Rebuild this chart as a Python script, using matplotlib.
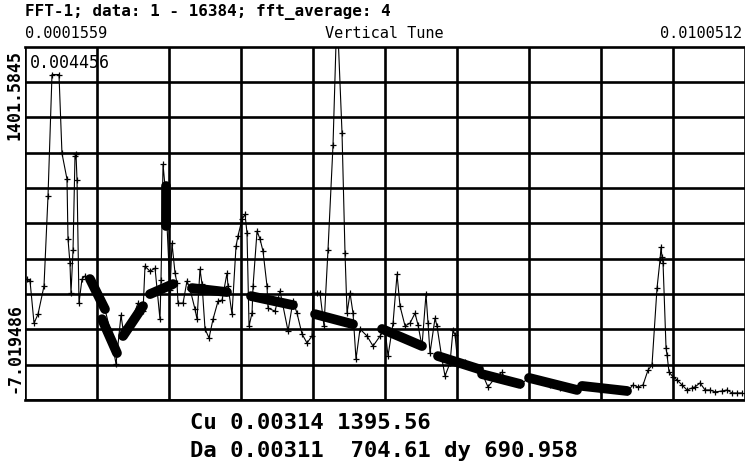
import numpy as np
import matplotlib
matplotlib.use('Agg')
import matplotlib.pyplot as plt

# widmo FFT - wartosci
tune = [0.000183, 0.000225, 0.000280, 0.000335, 0.000417, 0.000472, 0.000527, 0.000623,
        0.000664, 0.000733, 0.000747, 0.000774, 0.000788, 0.000816, 0.000843, 0.000857,
        0.000871, 0.000898, 0.000939, 0.000981, 0.001049, 0.001146, 0.001255, 0.001324,
        0.001407, 0.001475, 0.001503, 0.001599, 0.001709, 0.001778, 0.001805, 0.001874,
        0.001943, 0.002011, 0.002025, 0.002053, 0.002080, 0.002108, 0.002149, 0.002176,
        0.002218, 0.002245, 0.002259, 0.002328, 0.002382, 0.002424, 0.002492, 0.002520,
        0.002561, 0.002589, 0.002630, 0.002685, 0.002740, 0.002809, 0.002864, 0.002932,
        0.002946, 0.003001, 0.003056, 0.003083, 0.003138, 0.003180, 0.003207, 0.003235,
        0.003276, 0.003290, 0.003345, 0.003386, 0.003427, 0.003482, 0.003496, 0.003592,
        0.003661, 0.003771, 0.003839, 0.003894, 0.003963, 0.004032, 0.004100, 0.004114,
        0.004169, 0.004210, 0.004265, 0.004320, 0.004389, 0.004444, 0.004513, 0.004554,
        0.004582, 0.004623, 0.004664, 0.004705, 0.004760, 0.004856, 0.004939, 0.005035,
        0.005104, 0.005145, 0.005214, 0.005269, 0.005310, 0.005379, 0.005447, 0.005516,
        0.005557, 0.005612, 0.005667, 0.005695, 0.005722, 0.005791, 0.005818, 0.005887,
        0.005928, 0.005997, 0.006038, 0.006066, 0.006107, 0.006203, 0.006368, 0.006437,
        0.006519, 0.006616, 0.006712, 0.006753, 0.006959, 0.007097, 0.007372, 0.007509,
        0.007743, 0.007784, 0.008059, 0.008430, 0.008512, 0.008581, 0.008650, 0.008718,
        0.008773, 0.008842, 0.008883, 0.008897, 0.008911, 0.008925, 0.008966, 0.008980,
        0.009007, 0.009062, 0.009117, 0.009186, 0.009254, 0.009323, 0.009364, 0.009433,
        0.009502, 0.009571, 0.009639, 0.009736, 0.009804, 0.009873, 0.009942, 0.010010]
amp = [475, 467, 299, 335, 447, 805, 1290, 1290,
       976, 873, 634, 538, 419, 590, 964, 972,
       869, 379, 475, 487, 475, 411, 355, 272,
       136, 331, 276, 292, 379, 347, 526, 506,
       518, 315, 471, 932, 845, 686, 431, 618,
       498, 459, 379, 379, 467, 435, 355, 315,
       514, 455, 276, 240, 315, 387, 391, 498,
       447, 335, 606, 646, 713, 733, 658, 288,
       339, 447, 666, 634, 586, 447, 359, 347,
       427, 268, 387, 339, 256, 220, 248, 419,
       419, 419, 288, 590, 1008, 1550, 1056, 578,
       339, 419, 339, 156, 276, 248, 208, 248,
       276, 168, 299, 494, 367, 288, 299, 339,
       292, 208, 415, 299, 180, 319, 288, 156,
       89, 140, 272, 252, 132, 144, 112, 100,
       45, 81, 104, 73, 53, 85, 53, 41,
       33, 53, 33, 25, 53, 45, 53, 112,
       132, 439, 550, 602, 562, 538, 200, 172,
       104, 85, 73, 53, 33, 41, 45, 61,
       33, 33, 25, 29, 33, 21, 21, 21]

# geste fragmenty widma (poczatek i koniec kazdego pasma)
dense_t0 = [0.001049, 0.001214, 0.001503, 0.001874, 0.002451, 0.003262, 0.004142,
            0.005063, 0.005832, 0.006437, 0.007083, 0.007811, 0.002090]
dense_t1 = [0.001255, 0.001420, 0.001778, 0.002190, 0.002932, 0.003839, 0.004664,
            0.005612, 0.006396, 0.006959, 0.007743, 0.008430, 0.002090]
dense_a0 = [475, 315, 248, 415, 439, 407, 335, 276, 168, 96, 81, 49, 845]
dense_a1 = [355, 180, 367, 455, 423, 371, 295, 208, 116, 57, 33, 29, 686]

x_min, x_max = 0.0001559, 0.0100512
y_min, y_max = -7.019486, 1401.5845

fig = plt.figure(figsize=(7.45, 4.68), dpi=100)
ax = fig.add_axes([25 / 745, 68 / 468, 720 / 745, 353.5 / 468])

for t0, t1, a0, a1 in zip(dense_t0, dense_t1, dense_a0, dense_a1):
    ax.plot([t0, t1], [a0, a1], color='black', lw=7, solid_capstyle='round', zorder=3)
ax.plot(tune, amp, color='black', lw=0.8, marker='+', markersize=4, mew=0.9, zorder=4)

ax.set_xlim(x_min, x_max)
ax.set_ylim(y_min, y_max)
ax.set_xticks(np.linspace(x_min, x_max, 11))
ax.set_yticks(np.linspace(y_min, y_max, 11))
ax.tick_params(length=0, labelbottom=False, labelleft=False)
ax.grid(True, color='black', lw=1.9)
ax.set_axisbelow(True)
for side in ['left', 'right']:
    ax.spines[side].set_visible(False)
for side in ['top', 'bottom']:
    ax.spines[side].set_linewidth(1.9)

mono = 'DejaVu Sans Mono'
fig.text(25 / 745, 1 - 12.5 / 468, 'FFT-1; data: 1 - 16384; fft_average: 4', family=mono,
         weight='bold', fontsize=11.5, va='center', ha='left')
fig.text(25 / 745, 1 - 33 / 468, '0.0001559', family=mono, fontsize=11, va='center', ha='left')
fig.text(384 / 745, 1 - 33 / 468, 'Vertical Tune', family=mono, fontsize=11, va='center', ha='center')
fig.text(742 / 745, 1 - 33 / 468, '0.0100512', family=mono, fontsize=11, va='center', ha='right')
fig.text(30 / 745, 1 - 63 / 468, '0.004456', family=mono, fontsize=12, va='center', ha='left')
fig.text(15 / 745, 1 - 50 / 468, '1401.5845', family=mono, weight='bold', fontsize=12,
         rotation=90, va='top', ha='center')
fig.text(15 / 745, 1 - 393 / 468, '-7.019486', family=mono, weight='bold', fontsize=12,
         rotation=90, va='bottom', ha='center')
fig.text(190 / 745, 1 - 423 / 468, 'Cu 0.00314 1395.56', family=mono, weight='bold',
         fontsize=16, va='center', ha='left')
fig.text(190 / 745, 1 - 451 / 468, 'Da 0.00311  704.61 dy 690.958', family=mono, weight='bold',
         fontsize=16, va='center', ha='left')

plt.savefig('out.png', dpi=100)
